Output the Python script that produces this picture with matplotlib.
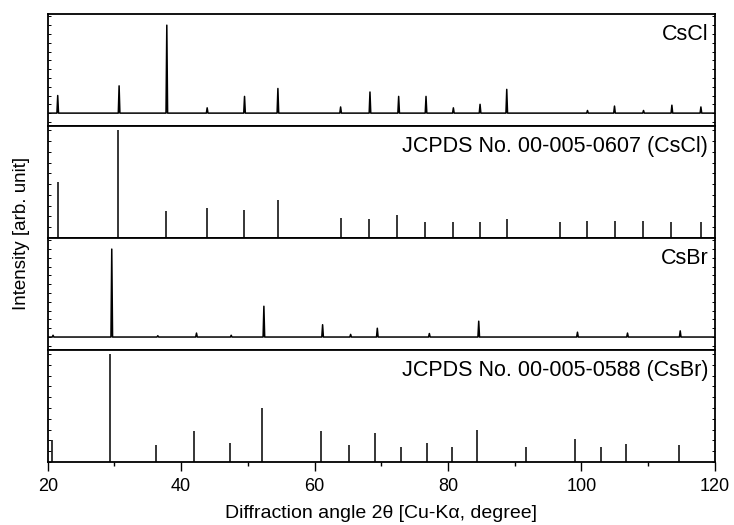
from typing import List
import matplotlib
matplotlib.use("Agg")
import matplotlib.pyplot as plt
from matplotlib.ticker import MultipleLocator

plt.rcParams['font.family'] = ['Liberation Sans', 'DejaVu Sans']

# Measured CsCl pattern: peak positions (2theta) and relative heights
cscl_pos = [21.5, 30.7, 37.85, 43.9, 49.5, 54.5, 63.9, 68.3, 72.6, 76.7,
            80.8, 84.8, 88.8, 100.9, 104.95, 109.3, 113.55, 117.9]
cscl_int = [20, 31, 100, 6, 19, 28, 7, 24, 19, 19,
            6, 10, 27, 3, 8, 3, 9, 7]

# JCPDS 00-005-0607 (CsCl) reference lines
cscl_ref_pos = [21.5, 30.6, 37.75, 43.8, 49.4, 54.5, 63.9, 68.2, 72.4, 76.6,
                80.7, 84.8, 88.8, 96.8, 100.9, 105.0, 109.2, 113.45, 117.95]
cscl_ref_int = [52, 100, 25, 28, 26, 35, 19, 18, 21, 15,
                15, 15, 18, 15, 16, 16, 16, 15, 15]

# Measured CsBr pattern
csbr_pos = [20.8, 29.6, 36.5, 42.3, 47.5, 52.4, 61.2, 65.4, 69.4, 77.2,
            84.6, 99.4, 106.9, 114.8]
csbr_int = [2, 100, 1.5, 4.5, 2, 35, 14, 3, 10, 4,
            18, 5.5, 4.5, 7]

# JCPDS 00-005-0588 (CsBr) reference lines
csbr_ref_pos = [20.65, 29.3, 36.2, 42.0, 47.3, 52.1, 60.9, 65.1, 69.1, 73.0,
                76.9, 80.6, 84.3, 91.7, 99.1, 102.9, 106.7, 114.6]
csbr_ref_int = [20, 100, 16, 29, 18, 50, 29, 16, 27, 14,
                18, 14, 30, 14, 21, 14, 17, 16]

panel_labels = ["CsCl", "JCPDS No. 00-005-0607 (CsCl)",
                "CsBr", "JCPDS No. 00-005-0588 (CsBr)"]

X_MIN, X_MAX = 20, 120
PEAK_HALF = 0.12  # half base width of a measured peak, degrees


def pattern_line(pos: List[float], inten: List[float]):
    """Baseline with sharp peaks at the given positions."""
    xs, ys = [X_MIN], [0.0]
    for p, h in zip(pos, inten):
        xs += [p - PEAK_HALF, p, p + PEAK_HALF]
        ys += [0.0, h, 0.0]
    xs.append(X_MAX)
    ys.append(0.0)
    return xs, ys


def style_axis(ax, label: str):
    ax.set_xlim(X_MIN, X_MAX)
    ax.xaxis.set_major_locator(MultipleLocator(20))
    ax.xaxis.set_minor_locator(MultipleLocator(10))
    ax.yaxis.set_major_locator(MultipleLocator(10))
    ax.tick_params(axis='x', which='both', direction='out', top=False, bottom=False,
                   labelbottom=False)
    ax.tick_params(axis='y', which='both', direction='in', left=True, right=True,
                   length=2, width=0.7, labelleft=False)
    for sp in ax.spines.values():
        sp.set_linewidth(1.3)
    ax.text(0.99, 0.91, label, transform=ax.transAxes, ha='right', va='top',
            fontsize=15.5)


def main():
    fig, axes = plt.subplots(4, 1, figsize=(7.34, 5.25), dpi=100, sharex=True)
    fig.subplots_adjust(left=0.065, right=0.974, top=0.973, bottom=0.12, hspace=0)

    # measured patterns
    for ax, pos, inten in ((axes[0], cscl_pos, cscl_int), (axes[2], csbr_pos, csbr_int)):
        xs, ys = pattern_line(pos, inten)
        ax.plot(xs, ys, color='black', lw=1.1)
        ax.set_ylim(-14.8, 112.5)

    # reference stick patterns
    for ax, pos, inten in ((axes[1], cscl_ref_pos, cscl_ref_int),
                           (axes[3], csbr_ref_pos, csbr_ref_int)):
        ax.vlines(pos, 0, inten, color='black', lw=1.1)
        ax.set_ylim(0, 103.7)

    for ax, label in zip(axes, panel_labels):
        style_axis(ax, label)

    bottom = axes[-1]
    bottom.tick_params(axis='x', which='both', bottom=True, labelbottom=True,
                       direction='out', width=1.0, labelsize=13, pad=5)
    bottom.tick_params(axis='x', which='major', length=6.5)
    bottom.tick_params(axis='x', which='minor', length=3)
    bottom.set_xlabel("Diffraction angle 2θ [Cu-Kα, degree]", fontsize=14, labelpad=7)
    fig.text(0.029, 0.555, "Intensity [arb. unit]", rotation=90, ha='center', va='center',
             fontsize=13.5)

    fig.savefig("out.png", dpi=100)


if __name__ == "__main__":
    main()
